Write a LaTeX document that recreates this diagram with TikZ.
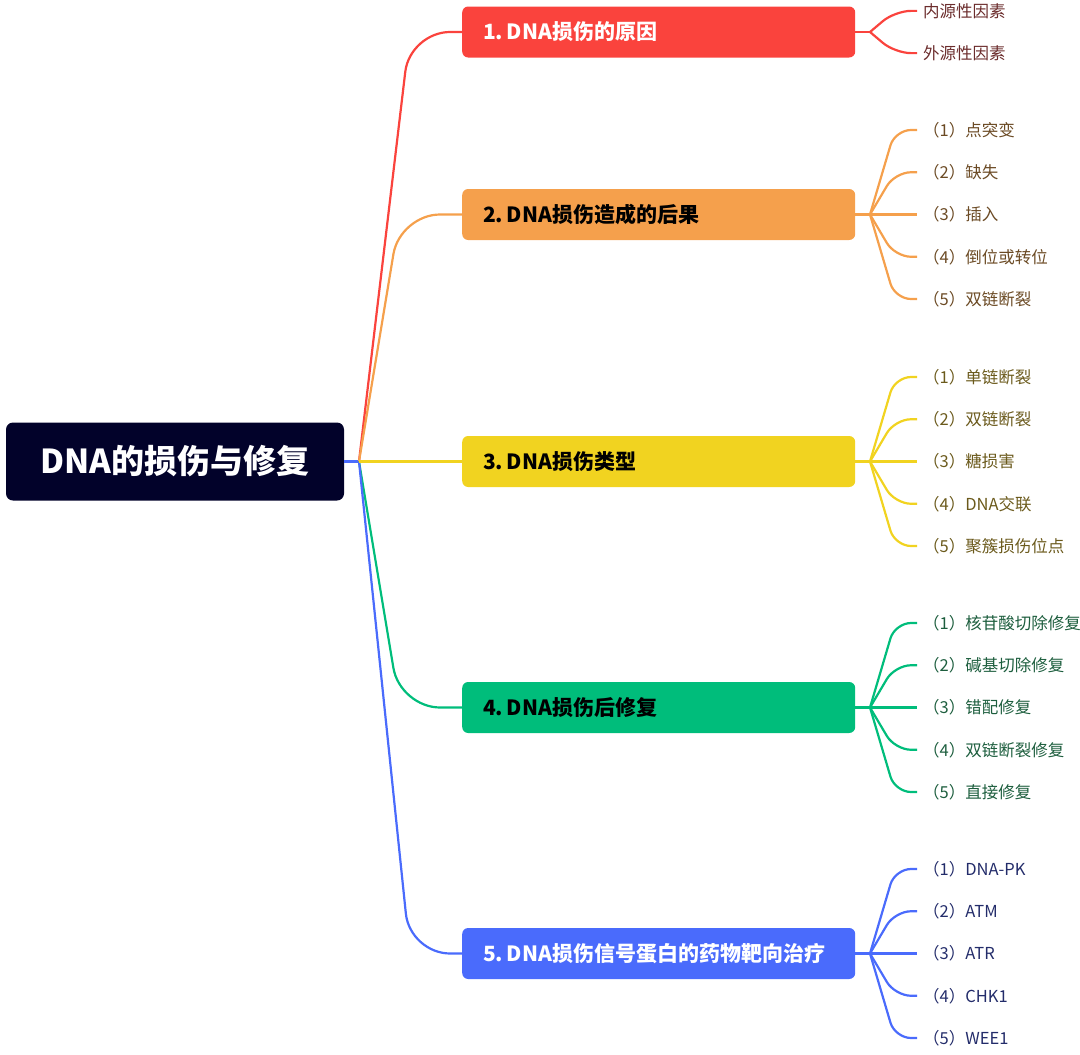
\documentclass[tikz,border=0pt]{standalone}
\usepackage{fontspec}
\setmainfont{Noto Sans CJK SC}
\usetikzlibrary{positioning}
\definecolor{rootnavy}{HTML}{02022A}
\definecolor{brred}{HTML}{FA433D}
\definecolor{brorange}{HTML}{F5A04C}
\definecolor{bryellow}{HTML}{F1D320}
\definecolor{brgreen}{HTML}{00BD7B}
\definecolor{brblue}{HTML}{4A6BFC}
\definecolor{kidred}{HTML}{6B2C2C}
\definecolor{kidorange}{HTML}{6B4A24}
\definecolor{kidyellow}{HTML}{6B5A1C}
\definecolor{kidgreen}{HTML}{1D5E3E}
\definecolor{kidblue}{HTML}{232C6A}
\begin{document}
\begin{tikzpicture}[x=1pt,y=-1pt,
  rootbox/.style={fill=rootnavy,text=white,rounded corners=7pt,minimum width=338pt,minimum height=78pt,inner sep=0pt,font=\bfseries\fontsize{33}{38}\selectfont},
  topicbox/.style={rounded corners=6pt,minimum height=51pt,text width=351pt,inner xsep=21pt,inner ysep=0pt,align=left,anchor=west,font=\bfseries\fontsize{21}{24}\selectfont},
  leaf/.style={anchor=west,inner xsep=6pt,inner ysep=2pt,font=\fontsize{16.5}{19}\selectfont},
  limb/.style={line width=2.2pt,rounded corners=40pt},
  twig/.style={line width=2.2pt,rounded corners=16pt}]
\useasboundingbox (0,0) rectangle (1080,1055);
\node[rootbox] (root) at (175,461.5) {DNA的损伤与修复};
\coordinate (trunk) at (359,461.5);
\draw[limb,draw=brblue] (root.east) -- (trunk);
\foreach \b/\yc/\cx/\col/\tcol/\kcol/\lbl/\n/\kids in {
  1/32/410/brred/white/kidred/{1.\,DNA损伤的原因}/2/{内源性因素,外源性因素},
  2/214.5/400/brorange/black/kidorange/{2.\,DNA损伤造成的后果}/5/{（1）点突变,（2）缺失,（3）插入,（4）倒位或转位,（5）双链断裂},
  4/707.5/400/brgreen/black/kidgreen/{4.\,DNA损伤后修复}/5/{（1）核苷酸切除修复,（2）碱基切除修复,（3）错配修复,（4）双链断裂修复,（5）直接修复},
  5/953.5/410/brblue/white/kidblue/{5.\,DNA损伤信号蛋白的药物靶向治疗}/5/{（1）DNA-PK,（2）ATM,（3）ATR,（4）CHK1,（5）WEE1},
  3/461.5/400/bryellow/black/kidyellow/{3.\,DNA损伤类型}/5/{（1）单链断裂,（2）双链断裂,（3）糖损害,（4）DNA交联,（5）聚簇损伤位点}} {
  \node[topicbox,fill=\col,text=\tcol] (topic\b) at (462,\yc) {\lbl};
  \draw[limb,draw=\col] (trunk) -- (\cx,\yc) -- (topic\b.west);
  \coordinate (fork\b) at (870,\yc);
  \draw[twig,draw=\col] (topic\b.east) -- (fork\b);
  \foreach \k [count=\i] in \kids {
    \pgfmathsetmacro{\y}{\yc+(\i-(\n+1)/2)*42.25}
    \node[leaf,text=\kcol] (kid\b\i) at (917,\y) {\k};
    \draw[twig,draw=\col] (fork\b) -- (895,\y) -- (kid\b\i.west);
  }
}
\end{tikzpicture}
\end{document}
